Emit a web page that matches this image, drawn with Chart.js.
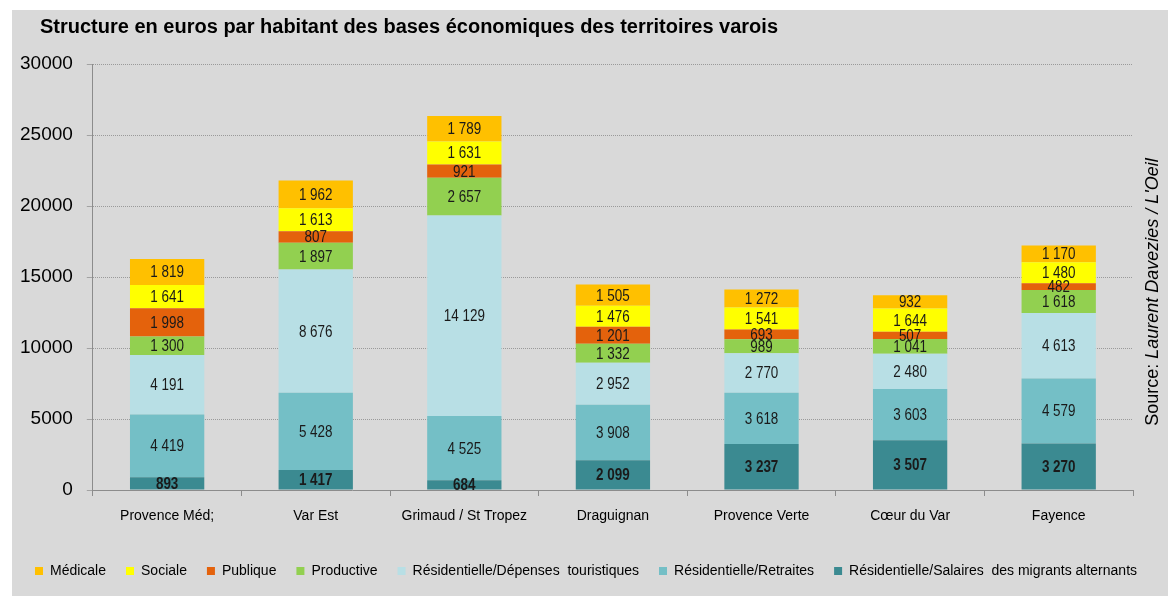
<!DOCTYPE html>
<html>
<head>
<meta charset="utf-8">
<script src="https://cdn.jsdelivr.net/npm/chart.js@4.4.0/dist/chart.umd.min.js"></script>
<style>
  html, body { margin: 0; padding: 0; background: #fff; }
  canvas { display: block; }
</style>
</head>
<body>
<canvas id="bases" width="1174" height="596"></canvas>
<script>
var territoires = ['Provence Méd;', 'Var Est', 'Grimaud / St Tropez', 'Draguignan', 'Provence Verte', 'Cœur du Var', 'Fayence'];

// bottom of the stack first
var salaires   = [893, 1417, 684, 2099, 3237, 3507, 3270];
var retraites  = [4419, 5428, 4525, 3908, 3618, 3603, 4579];
var touristes  = [4191, 8676, 14129, 2952, 2770, 2480, 4613];
var productive = [1300, 1897, 2657, 1332, 989, 1041, 1618];
var publique   = [1998, 807, 921, 1201, 693, 507, 482];
var sociale    = [1641, 1613, 1631, 1476, 1541, 1644, 1480];
var medicale   = [1819, 1962, 1789, 1505, 1272, 932, 1170];

var yTicks = [0, 5000, 10000, 15000, 20000, 25000, 30000];

var FONT = 'Arial, "Liberation Sans", sans-serif';

function formatFr(v) {
    return String(v).replace(/\B(?=(\d{3})+(?!\d))/g, ' ');
}

// grey panel, title and the vertical source line
var decor = {
    id: 'decor',
    beforeDraw: function(chart) {
        var ctx = chart.ctx;
        ctx.save();
        ctx.fillStyle = '#ffffff';
        ctx.fillRect(0, 0, chart.width, chart.height);
        ctx.fillStyle = '#d9d9d9';
        ctx.fillRect(12, 10, 1156, 586);
        ctx.restore();
    },
    afterDraw: function(chart) {
        var ctx = chart.ctx;
        ctx.save();
        ctx.fillStyle = '#000';
        ctx.font = 'bold 20px ' + FONT;
        ctx.textBaseline = 'middle';
        ctx.fillText('Structure en euros par habitant des bases économiques des territoires varois', 40, 27);

        ctx.translate(1153, 292);
        ctx.rotate(-Math.PI / 2);
        var a = 'Source: ';
        var b = 'Laurent Davezies / L\'Oeil';
        ctx.font = '18px ' + FONT;
        var wa = ctx.measureText(a).width;
        ctx.font = 'italic 18px ' + FONT;
        var wb = ctx.measureText(b).width;
        var x0 = -(wa + wb) / 2;
        ctx.font = '18px ' + FONT;
        ctx.fillText(a, x0, 0);
        ctx.font = 'italic 18px ' + FONT;
        ctx.fillText(b, x0 + wa, 0);
        ctx.restore();
    }
};

// value written in the middle of each segment
var segmentLabels = {
    id: 'segmentLabels',
    afterDatasetsDraw: function(chart) {
        var ctx = chart.ctx;
        ctx.save();
        ctx.textAlign = 'center';
        ctx.textBaseline = 'middle';
        chart.data.datasets.forEach(function(ds, i) {
            var meta = chart.getDatasetMeta(i);
            if (meta.hidden) return;
            meta.data.forEach(function(bar, j) {
                var y = (bar.y + bar.base) / 2;
                ctx.save();
                ctx.translate(bar.x, y);
                ctx.scale(0.84, 1);
                ctx.fillStyle = '#1a1a1a';
                ctx.font = (i === 0 ? 'bold ' : '') + '16px ' + FONT;
                ctx.fillText(formatFr(ds.data[j]), 0, 1);
                ctx.restore();
            });
        });
        ctx.restore();
    }
};

var ctx = document.getElementById('bases').getContext('2d');
new Chart(ctx, {
    type: 'bar',
    data: {
        labels: territoires,
        datasets: [
            { label: 'Résidentielle/Salaires  des migrants alternants', data: salaires, backgroundColor: '#3b8a91' },
            { label: 'Résidentielle/Retraites', data: retraites, backgroundColor: '#74bfc6' },
            { label: 'Résidentielle/Dépenses  touristiques', data: touristes, backgroundColor: '#b8dfe5' },
            { label: 'Productive', data: productive, backgroundColor: '#92d050' },
            { label: 'Publique', data: publique, backgroundColor: '#e4620c' },
            { label: 'Sociale', data: sociale, backgroundColor: '#ffff00' },
            { label: 'Médicale', data: medicale, backgroundColor: '#ffc000' }
        ]
    },
    options: {
        responsive: false,
        animation: false,
        layout: {
            padding: { left: 6, right: 8, top: 64, bottom: 8 }
        },
        datasets: {
            bar: { barPercentage: 0.5, categoryPercentage: 1, borderWidth: 0 }
        },
        scales: {
            x: {
                stacked: true,
                grid: { drawOnChartArea: false, drawTicks: true, tickLength: 6, color: '#8c8c8c' },
                border: { display: true, color: '#8c8c8c', width: 1 },
                ticks: { color: '#000', font: { family: FONT, size: 14 }, padding: 12, maxRotation: 0, autoSkip: false },
                title: { display: true, text: ' ', font: { size: 6 }, padding: { top: 0, bottom: 0 } }
            },
            y: {
                stacked: true,
                min: 0,
                max: 30000,
                afterBuildTicks: function(scale) {
                    scale.ticks = yTicks.map(function(v) { return { value: v }; });
                },
                grid: { color: '#9a9a9a', tickLength: 6, tickBorderDash: [1, 0] },
                border: { display: true, color: '#8c8c8c', width: 1, dash: [1, 1] },
                ticks: {
                    color: '#000',
                    font: { family: FONT, size: 19 },
                    padding: 14,
                    callback: function(v) { return String(v); }
                }
            },
            // empty strip on the right that holds the source line
            yR: {
                type: 'linear',
                position: 'right',
                display: true,
                grid: { drawOnChartArea: false, drawTicks: false },
                border: { display: false },
                ticks: { display: false },
                afterFit: function(scale) { scale.width = 33; }
            }
        },
        plugins: {
            title: { display: false },
            tooltip: { enabled: false },
            legend: {
                position: 'bottom',
                reverse: true,
                labels: {
                    color: '#000',
                    font: { family: FONT, size: 14 },
                    boxWidth: 8,
                    boxHeight: 8,
                    padding: 20
                }
            }
        }
    },
    plugins: [decor, segmentLabels]
});
</script>
</body>
</html>
